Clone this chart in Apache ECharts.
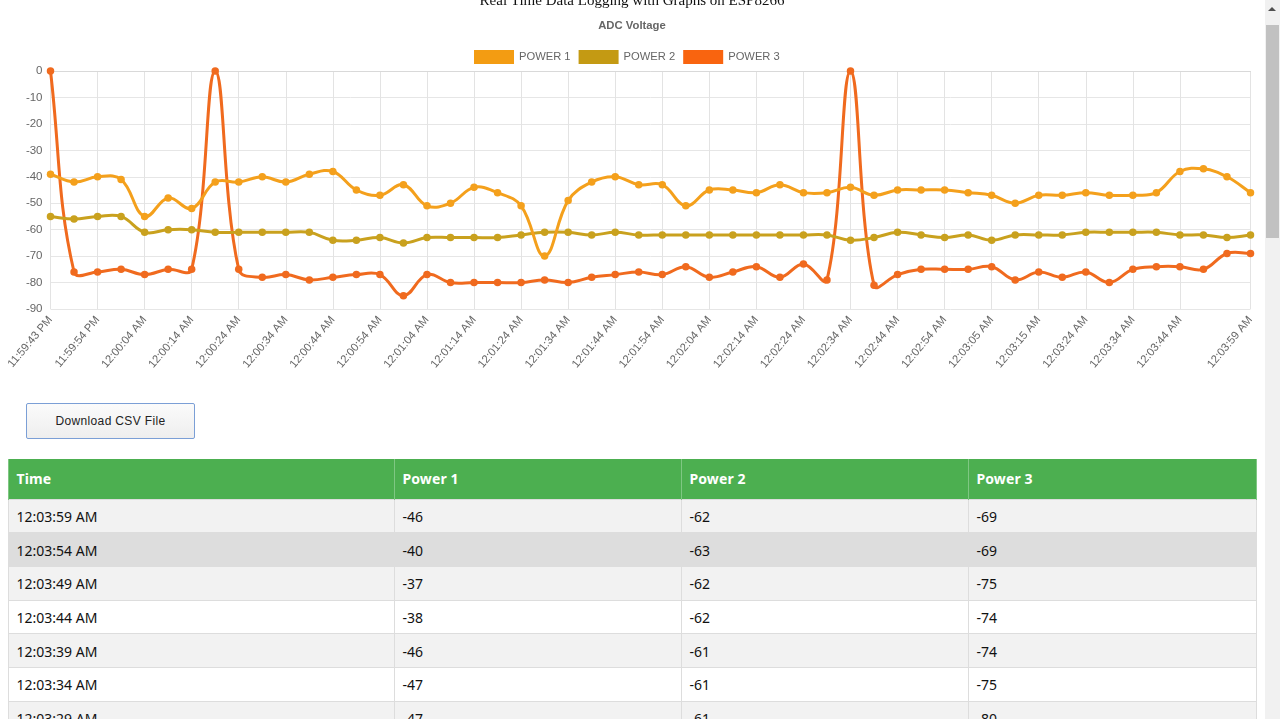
<!DOCTYPE html>
<html><head><meta charset="utf-8">
<script src="https://cdn.jsdelivr.net/npm/echarts@6/dist/echarts.min.js"></script>
<style>
html,body{margin:0;padding:0;width:1280px;height:719px;overflow:hidden;background:#fff}
#chart{position:absolute;left:0;top:0;width:1265px;height:395px}
#btn{position:absolute;left:26px;top:403px;width:169px;height:36px;box-sizing:border-box;border:1px solid #7b9fd6;border-radius:2px;background:linear-gradient(#fbfbfb,#eeeeee);font:12px "Liberation Sans",Arial,sans-serif;letter-spacing:.35px;color:#222;text-align:center;line-height:34px}
#tbl{position:absolute;left:7.5px;top:459px;width:1248px;border-collapse:collapse;table-layout:fixed;font:14px "Noto Sans",sans-serif;color:#111}
#tbl th{background:#4CAF50;color:#fff;text-align:left;height:40px;padding:0 8px;box-sizing:border-box;border:1px solid #7fc783;border-top:none;border-bottom:none;font-weight:700;letter-spacing:.1px}
#tbl td{height:33.7px;padding:1px 8px 0;box-sizing:border-box;border:1px solid #ddd}
#sb{position:absolute;left:1265px;top:0;width:15px;height:719px;background:#f1f1f1}
#sb i{position:absolute;left:1px;top:25px;width:13px;height:213px;background:#c1c1c1}
#sb b{position:absolute;left:3px;top:7px;width:0;height:0;border-left:4px solid transparent;border-right:4px solid transparent;border-bottom:4px solid #505050}
</style></head><body>
<div id="chart"></div>
<div id="btn">Download CSV File</div>
<table id="tbl"></table>
<div id="sb"><b></b><i></i></div>
<script>
const pageTitle = "Real Time Data Logging with Graphs on ESP8266";
const chartTitle = "ADC Voltage";
const times = ["11:59:43 PM","11:59:49 PM","11:59:54 PM","11:59:59 PM","12:00:04 AM","12:00:09 AM","12:00:14 AM","12:00:19 AM","12:00:24 AM","12:00:29 AM","12:00:34 AM","12:00:39 AM","12:00:44 AM","12:00:49 AM","12:00:54 AM","12:00:59 AM","12:01:04 AM","12:01:09 AM","12:01:14 AM","12:01:19 AM","12:01:24 AM","12:01:29 AM","12:01:34 AM","12:01:39 AM","12:01:44 AM","12:01:49 AM","12:01:54 AM","12:01:59 AM","12:02:04 AM","12:02:09 AM","12:02:14 AM","12:02:19 AM","12:02:24 AM","12:02:29 AM","12:02:34 AM","12:02:39 AM","12:02:44 AM","12:02:49 AM","12:02:54 AM","12:03:00 AM","12:03:05 AM","12:03:10 AM","12:03:15 AM","12:03:19 AM","12:03:24 AM","12:03:29 AM","12:03:34 AM","12:03:39 AM","12:03:44 AM","12:03:49 AM","12:03:54 AM","12:03:59 AM"];
const power1 = [-39,-42,-40,-41,-55,-48,-52,-42,-42,-40,-42,-39,-38,-45,-47,-43,-51,-50,-44,-46,-51,-70,-49,-42,-40,-43,-43,-51,-45,-45,-46,-43,-46,-46,-44,-47,-45,-45,-45,-46,-47,-50,-47,-47,-46,-47,-47,-46,-38,-37,-40,-46];
const power2 = [-55,-56,-55,-55,-61,-60,-60,-61,-61,-61,-61,-61,-64,-64,-63,-65,-63,-63,-63,-63,-62,-61,-61,-62,-61,-62,-62,-62,-62,-62,-62,-62,-62,-62,-64,-63,-61,-62,-63,-62,-64,-62,-62,-62,-61,-61,-61,-61,-62,-62,-63,-62];
const power3 = [0,-76,-76,-75,-77,-75,-75,0,-75,-78,-77,-79,-78,-77,-77,-85,-77,-80,-80,-80,-80,-79,-80,-78,-77,-76,-77,-74,-78,-76,-74,-78,-73,-79,0,-81,-77,-75,-75,-75,-74,-79,-76,-78,-76,-80,-75,-74,-74,-75,-69,-69];
const seriesNames = ["POWER 1","POWER 2","POWER 3"];
const tableHead = ["Time","Power 1","Power 2","Power 3"];
const tableRowCount = 7;
const rowColors = ["#f2f2f2","#dddddd","#f2f2f2","#ffffff","#f2f2f2","#ffffff","#f2f2f2"];
const colWidths = [386,287,287,288];
const colors = ["#F4A01C","#C9A11E","#F06A1E"];
const legendColors = ["#F39C12","#C49A13","#F9640F"];
const tension = 0.4;
const isTick = i => i === times.length - 1 || (i % 2 === 0 && i <= 48);

const t = document.getElementById('tbl');
let html = '<colgroup>' + colWidths.map(w => `<col style="width:${w}px">`).join('') + '</colgroup><tr>' + tableHead.map(h => `<th>${h}</th>`).join('') + '</tr>';
for (let r = 0; r < tableRowCount; r++) {
  const i = times.length - 1 - r;
  html += `<tr style="background:${rowColors[r]}"><td>${times[i]}</td><td>${power1[i]}</td><td>${power2[i]}</td><td>${power3[i]}</td></tr>`;
}
t.innerHTML = html;

const chart = echarts.init(document.getElementById('chart'), null, {renderer:'canvas'});

// The curve between two points, with control points taken from the neighbouring points
// (Catmull-Rom style tension, kept inside the plot area, so the line may overshoot a point).
function controlPoints(pts, i, cs) {
  const cur = pts[i], prev = pts[Math.max(i - 1, 0)], next = pts[Math.min(i + 1, pts.length - 1)];
  const d01 = Math.hypot(cur[0] - prev[0], cur[1] - prev[1]);
  const d12 = Math.hypot(next[0] - cur[0], next[1] - cur[1]);
  const sum = (d01 + d12) || 1;
  const fa = tension * d01 / sum, fb = tension * d12 / sum;
  const clampX = v => Math.min(Math.max(v, cs.x), cs.x + cs.width);
  const clampY = v => Math.min(Math.max(v, cs.y), cs.y + cs.height);
  return {
    before: [clampX(cur[0] - fa * (next[0] - prev[0])), clampY(cur[1] - fa * (next[1] - prev[1]))],
    after: [clampX(cur[0] + fb * (next[0] - prev[0])), clampY(cur[1] + fb * (next[1] - prev[1]))]
  };
}
const curve = (name, values, color, z) => ({
  name, type:'custom', coordinateSystem:'cartesian2d', z, silent:true, clip:false,
  data: values.map((v,i)=>[i,v]), encode:{x:0,y:1},
  renderItem(params, api) {
    const i = params.dataIndex;
    if (i >= values.length - 1) return null;
    const pts = values.map((v,k)=>api.coord([k,v]));
    const a = controlPoints(pts,i,params.coordSys), b = controlPoints(pts,i+1,params.coordSys);
    return {type:'bezierCurve',
      shape:{x1:pts[i][0],y1:pts[i][1],x2:pts[i+1][0],y2:pts[i+1][1],
        cpx1:a.after[0],cpy1:a.after[1],cpx2:b.before[0],cpy2:b.before[1]},
      style:{stroke:color,lineWidth:3,fill:null,lineCap:'round'}};
  }
});
const points = (name, data, color, z) => ({
  name, data, type:'line', color, z, clip:false,
  symbol:'circle', symbolSize:7.5, showAllSymbol:true, animation:false,
  lineStyle:{opacity:0}, itemStyle:{color}
});
chart.setOption({
  animation:false,
  title:[
    {text:pageTitle,left:627,top:-11,textAlign:'center',textStyle:{fontFamily:'"Liberation Serif",serif',fontSize:15,fontWeight:'normal',color:'#111'}},
    {text:chartTitle,left:627,top:15,textAlign:'center',textStyle:{fontFamily:'"Liberation Sans",Arial,sans-serif',fontSize:11.3,fontWeight:'bold',color:'#666'}}
  ],
  legend:{left:469,top:45,itemWidth:40,itemHeight:14,itemGap:8,icon:'rect',
    textStyle:{fontFamily:'"Liberation Sans",Arial,sans-serif',fontSize:11.2,color:'#666'},
    data:seriesNames.map((n,i)=>({name:n,icon:'rect',itemStyle:{color:legendColors[i],borderWidth:0}}))},
  grid:{left:50.5,top:71,width:1200,height:238,containLabel:false},
  xAxis:{type:'category',data:times,boundaryGap:false,
    axisLine:{show:true,lineStyle:{color:'#d9d9d9',width:1}},axisTick:{show:false},
    axisLabel:{interval:(i)=>isTick(i),rotate:50,margin:9,fontSize:11.2,color:'#666',fontFamily:'"Liberation Sans",Arial,sans-serif',hideOverlap:false,showMaxLabel:true,showMinLabel:true},
    splitLine:{show:true,interval:(i)=>isTick(i),lineStyle:{color:'#e3e3e3',width:1}}},
  yAxis:{type:'value',min:-90,max:0,interval:10,
    axisLine:{show:false},axisTick:{show:false},
    axisLabel:{margin:8,fontSize:11.5,color:'#666',fontFamily:'"Liberation Sans",Arial,sans-serif'},
    splitLine:{lineStyle:{color:'#e6e6e6',width:1}}},
  series:[
    curve(seriesNames[2],power3,colors[2],3),points(seriesNames[2],power3,colors[2],3),
    curve(seriesNames[1],power2,colors[1],4),points(seriesNames[1],power2,colors[1],4),
    curve(seriesNames[0],power1,colors[0],5),points(seriesNames[0],power1,colors[0],5)
  ]
});
</script></body></html>
